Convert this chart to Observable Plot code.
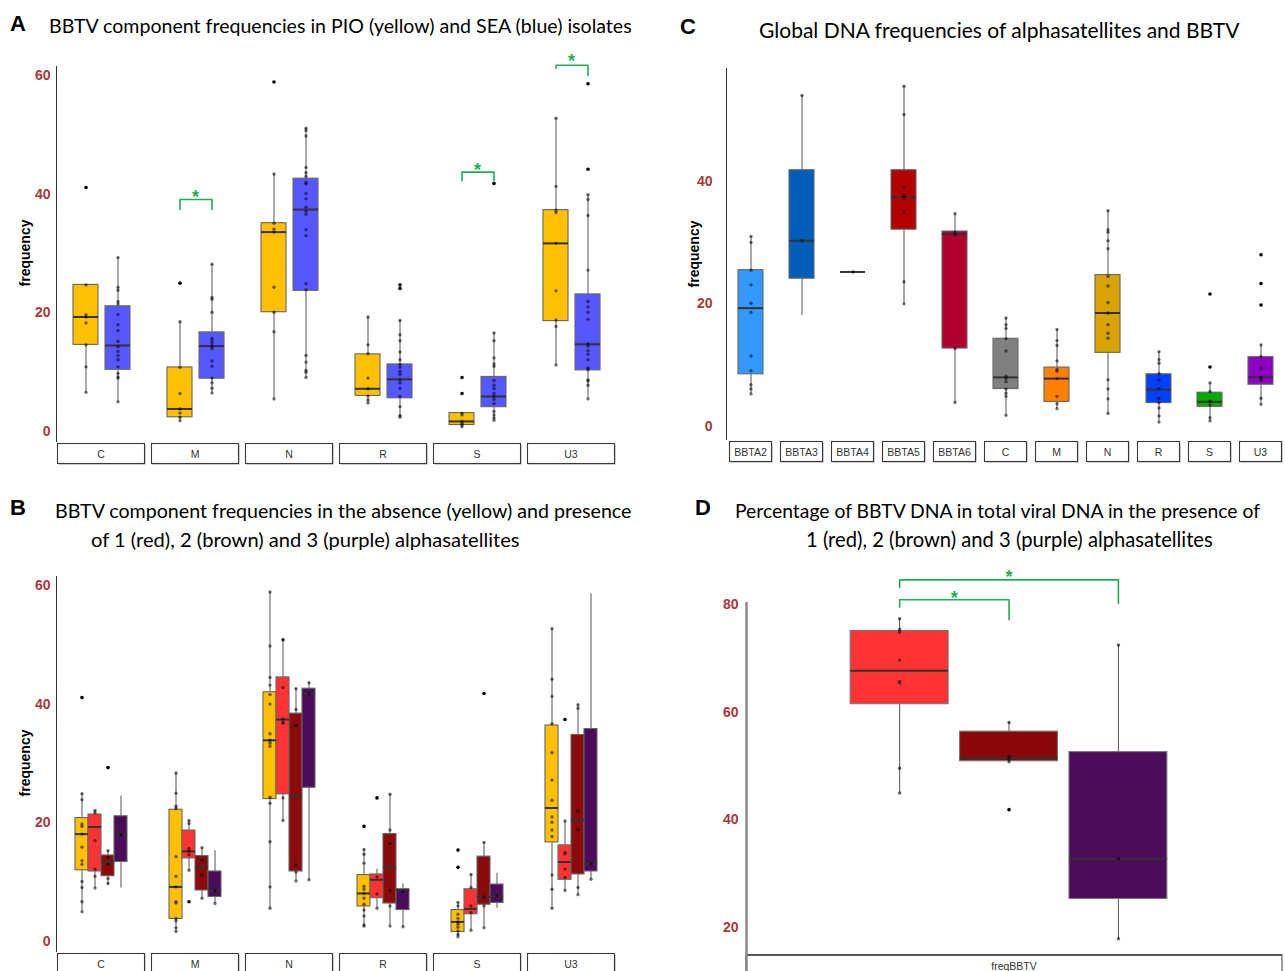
<!DOCTYPE html>
<html><head><meta charset="utf-8">
<script src="https://cdn.jsdelivr.net/npm/d3@7"></script>
<script src="https://cdn.jsdelivr.net/npm/@observablehq/plot@0.6"></script>
<style>
html,body{margin:0;padding:0;background:#fff;}
#root{position:relative;width:1285px;height:971px;overflow:hidden;background:#fff;}
.pw{position:absolute;}
.t{position:absolute;white-space:nowrap;line-height:1;color:#000;}
</style></head><body><div id="root"></div>
<script>
// ---------------- Panel A data ----------------
const A_cats = ["C","M","N","R","S","U3"];
const A_groups = ["PIO","SEA"];
const A_colors = ["#FFC000","#5757FF"];
const A_ticks = [0,20,40,60];
const A_lo  = [6.6, 5.0, 1.8, 6.5, 5.5, 9.1, 4.8, 2.4, 0.8, 1.9, 11.2, 5.5];
const A_q1  = [14.6, 10.4, 2.4, 8.9, 20.1, 23.7, 6.0, 5.6, 1.1, 4.1, 18.6, 10.3];
const A_med = [19.3, 14.5, 3.8, 14.4, 33.6, 37.4, 7.2, 8.8, 1.7, 5.9, 31.7, 14.7];
const A_q3  = [24.7, 21.1, 10.8, 16.7, 35.1, 42.6, 13.0, 11.3, 3.1, 9.2, 37.3, 23.1];
const A_hi  = [24.7, 29.3, 18.5, 28.2, 43.4, 51.1, 19.3, 18.7, 3.1, 16.6, 52.8, 39.9];
const A_points = [
  [24.7, 19.7, 19.3, 18.3, 14.6, 10.9, 6.6],
  [29.3, 24.3, 23.8, 21.9, 21.5, 19.7, 18.0, 17.0, 15.2, 14.3, 13.5, 12.8, 12.1, 10.9, 9.8, 9.2, 9.0, 5.0],
  [18.5, 10.8, 6.4, 3.8, 3.1, 2.4, 1.8],
  [28.2, 22.6, 22.3, 20.1, 15.7, 15.3, 14.9, 14.4, 14.0, 11.9, 11.0, 9.0, 8.2, 7.3, 6.5],
  [43.4, 35.1, 34.1, 33.6, 24.3, 20.1, 16.8, 5.5],
  [51.1, 50.7, 49.8, 44.5, 43.6, 43.0, 42.0, 41.7, 40.1, 39.2, 37.8, 37.1, 36.6, 34.0, 33.0, 24.9, 23.9, 12.8, 11.7, 10.3, 10.0, 9.1],
  [19.3, 14.6, 13.1, 9.0, 7.2, 6.0, 5.3, 4.8],
  [18.7, 16.3, 15.3, 13.4, 12.1, 11.3, 10.8, 10.1, 9.6, 8.7, 8.2, 7.3, 5.9, 4.2, 2.7, 2.4],
  [3.1, 2.8, 1.7, 1.4, 1.1, 0.8],
  [16.6, 15.3, 12.4, 11.4, 11.0, 8.6, 7.8, 7.2, 6.4, 5.9, 5.4, 4.7, 3.4, 2.8, 2.3, 1.9],
  [52.8, 41.3, 37.3, 36.9, 31.7, 23.7, 18.8, 17.7, 11.2],
  [39.9, 39.1, 36.4, 27.2, 21.9, 21.0, 20.1, 18.9, 14.8, 14.4, 13.6, 13.0, 12.1, 10.7, 10.4, 8.7, 8.5, 7.8, 5.5]
];
const A_outliers = [[41.1], [], [25.0], [], [58.9], [], [], [24.7, 24.1], [9.1, 6.4], [41.8], [], [58.6, 44.2]];
const A_sigCat = ["M","S","U3"];
const A_sigTop = [39.1, 43.7, 61.7];
const A_sigLeft = [37.4, 42.2, 61.2];
const A_sigRight = [37.4, 42.2, 60.0];
const A_sigStar = [40.3, 44.8, 63.1];

// ---------------- Panel B data ----------------
const B_cats = ["C","M","N","R","S","U3"];
const B_groups = ["0","1","2","3"];
const B_colors = ["#FFC000","#FF3333","#8B0A0A","#4B0C59"];
const B_ticks = [0,20,40,60];
const B_lo  = [5.0, 9.0, 9.4, 9.0,  1.7, 12.0, 7.3, 6.4,  5.6, 20.4, 10.2, 10.4,  2.6, 5.6, 2.6, 2.5,  0.8, 1.9, 2.3, 5.6,  5.6, 8.6, 7.9, 10.5];
const B_q1  = [12.0, 11.8, 11.0, 13.4,  3.8, 14.0, 8.6, 7.5,  24.0, 24.8, 11.8, 25.9,  5.9, 7.3, 6.4, 5.3,  1.6, 4.6, 6.2, 6.5,  16.7, 10.4, 11.3, 11.8];
const B_med = [18.1, 19.3, 13.4, 18.0,  9.2, 15.2, 12.5, 8.6,  33.9, 37.4, 24.5, 41.7,  8.1, 10.4, 12.5, 8.7,  3.3, 5.5, 7.5, 7.7,  22.5, 13.4, 20.4, 13.1];
const B_q3  = [20.8, 21.4, 14.5, 21.1,  22.2, 18.7, 14.4, 11.8,  42.0, 44.5, 38.4, 42.6,  11.2, 11.3, 18.1, 8.8,  5.3, 8.8, 14.3, 9.6,  36.4, 16.2, 34.8, 35.8];
const B_hi  = [24.9, 22.1, 15.3, 24.5,  28.4, 20.4, 15.8, 15.3,  58.9, 50.9, 42.6, 43.6,  15.5, 12.2, 24.8, 9.7,  6.6, 11.3, 16.7, 11.5,  52.7, 20.3, 39.9, 58.6];
const B_points = [
  [24.9, 23.9, 19.8, 19.4, 18.1, 15.9, 13.6, 13.0, 10.1, 9.1, 6.7, 5.0],
  [22.1, 21.7, 17.0, 12.2, 11.0, 9.0],
  [15.3, 14.2, 13.0, 10.6, 9.8],
  [18.0],
  [28.4, 25.0, 22.8, 22.4, 14.3, 11.0, 9.2, 6.7, 6.5, 3.9, 3.5, 2.3, 1.7],
  [20.4, 19.9, 15.7, 15.2, 14.6, 12.0],
  [15.8, 13.7, 11.2, 7.3],
  [8.6, 6.4],
  [58.9, 49.8, 44.5, 43.2, 41.6, 40.0, 35.0, 33.9, 33.4, 32.9, 24.3, 23.3, 16.8, 9.2, 5.6],
  [50.9, 50.8, 42.8, 37.5, 36.9, 36.8, 24.2, 20.4],
  [42.6, 39.1, 36.4, 12.9, 11.7, 10.2],
  [43.6, 41.7, 10.4],
  [15.5, 14.7, 13.2, 9.3, 8.8, 8.1, 7.3, 6.3, 5.3, 4.3, 2.8, 2.6],
  [10.9, 8.0, 5.6],
  [24.8, 18.8, 16.5, 8.6, 6.0, 2.6],
  [8.4, 2.5],
  [6.6, 6.0, 4.6, 3.9, 3.3, 2.9, 2.4, 1.8, 1.2, 0.8],
  [11.3, 9.1, 6.0, 4.9, 1.9],
  [16.7, 7.5, 6.0, 2.3],
  [7.7],
  [52.7, 44.2, 41.3, 36.7, 31.8, 27.2, 23.8, 21.0, 20.1, 18.8, 17.7, 11.2, 8.8, 5.6],
  [20.3, 15.0, 14.8, 12.2, 10.8, 8.6],
  [39.9, 39.3, 22.0, 18.9, 9.1, 7.9],
  [13.1, 10.5]
];
const B_outliers = [[41.1], [], [29.3], [],  [], [6.7], [], [],  [], [], [], [],  [19.4], [24.2], [], [],  [15.4, 12.5], [], [41.8], [],  [], [37.4], [], []];

// ---------------- Panel C data ----------------
const C_cats = ["BBTA2","BBTA3","BBTA4","BBTA5","BBTA6","C","M","N","R","S","U3"];
const C_colors = ["#3399FF","#005EB8","#333333","#B30000","#B0002E","#808080","#FF8000","#D9A300","#0040FF","#00AA00","#8E00C4"];
const C_ticks = [0,20,40];
const C_lo  = [5.3, 18.1, 25.2, 20.0, 3.9, 1.8, 2.9, 2.1, 0.7, 0.9, 3.6];
const C_q1  = [8.5, 24.1, 25.2, 32.1, 12.7, 6.1, 4.0, 12.0, 3.8, 3.2, 6.8];
const C_med = [19.3, 30.3, 25.2, 37.4, 31.4, 8.0, 7.8, 18.5, 6.0, 4.0, 8.0];
const C_q3  = [25.5, 41.8, 25.2, 41.8, 31.8, 14.3, 9.6, 24.7, 8.5, 5.5, 11.3];
const C_hi  = [31.0, 54.0, 25.2, 55.5, 34.7, 17.7, 15.8, 35.2, 12.2, 7.1, 13.3];
const C_points = [
  [31.0, 30.0, 25.5, 23.1, 20.1, 18.6, 11.5, 9.1, 6.8, 6.1, 5.3],
  [54.0, 30.3],
  [25.2],
  [55.5, 50.9, 39.0, 37.7, 37.3, 35.0, 23.6, 20.0],
  [34.7, 31.7, 31.3, 12.7, 3.9],
  [17.7, 16.6, 16.0, 14.3, 12.3, 8.2, 7.8, 7.3, 6.1, 5.4, 4.9, 1.8],
  [15.8, 14.0, 13.2, 10.7, 9.3, 9.0, 7.8, 4.9, 3.7, 2.9],
  [35.2, 32.1, 31.7, 30.3, 29.0, 24.5, 22.9, 20.2, 18.5, 16.6, 15.2, 14.4, 7.6, 6.1, 4.5, 2.1],
  [12.2, 10.9, 10.3, 8.6, 7.6, 6.2, 4.6, 3.9, 3.0, 1.7, 0.7],
  [7.1, 5.7, 4.1, 3.5, 1.4, 0.9],
  [13.3, 11.4, 9.5, 8.0, 7.6, 4.6, 3.6]
];
const C_outliers = [[], [], [], [], [], [], [], [], [], [21.6, 9.7], [28.0, 23.3, 19.8]];

// ---------------- Panel D data ----------------
const D_groups = ["1","2","3"];
const D_pos = [1, 2, 3];
const D_colors = ["#FF3333","#8B0808","#4B0C59"];
const D_ticks = [20,40,60,80];
const D_lo  = [45.0, 50.8, 17.9];
const D_q1  = [61.5, 50.9, 25.3];
const D_med = [67.7, 51.5, 32.8];
const D_q3  = [75.1, 56.4, 52.6];
const D_hi  = [77.4, 58.1, 72.5];
const D_points = [
  [77.4, 75.4, 74.9, 69.7, 65.7, 65.5, 49.6, 45.0],
  [58.1, 51.8, 51.3, 50.8],
  [72.5, 32.8, 17.9]
];
const D_outliers = [[], [41.9], []];
const D_strip = "freqBBTV";
const D_sigFrom = [1, 1];
const D_sigTo = [2, 3];
const D_sigTop = [80.9, 84.6];
const D_sigLeft = [79.5, 83.2];
const D_sigRight = [77.2, 80.2];
const D_sigStar = [82.0, 86.0];

// ---------------- helpers ----------------
const TICK = "#A8383B";
const GREEN = "#1FAF55";
const FONT = "Liberation Sans, Arial, sans-serif";
const root = document.getElementById("root");

function boxRows(cats, groups, lo, q1, med, q3, hi) {
  const rows = [];
  cats.forEach((c, ci) => groups.forEach((g, gi) => {
    const i = ci * groups.length + gi;
    rows.push({cat: c, group: g, lo: lo[i], q1: q1[i], med: med[i], q3: q3[i], hi: hi[i]});
  }));
  return rows;
}
function ptRows(cats, groups, lists) {
  const rows = [];
  cats.forEach((c, ci) => groups.forEach((g, gi) => {
    for (const v of lists[ci * groups.length + gi]) rows.push({cat: c, group: g, v});
  }));
  return rows;
}
function place(svg, left, top, width) {
  const w = document.createElement("div");
  w.className = "pw";
  w.style.left = left + "px"; w.style.top = top + "px"; w.style.width = width + "px";
  w.appendChild(svg);
  root.appendChild(w);
}
function styleTicks(svg) {
  d3.select(svg).selectAll('g[aria-label="y-axis tick label"] text, g[aria-label="y-axis tick label"]')
    .attr("fill", TICK).attr("font-weight", "bold").attr("font-size", 14).attr("font-family", FONT);
}
function axisLine(svg, x, y1, y2, stroke, w) {
  d3.select(svg).append("line").attr("x1", x).attr("x2", x).attr("y1", y1).attr("y2", y2)
    .attr("stroke", stroke).attr("stroke-width", w);
}
function yLabel(svg, x, y, txt) {
  d3.select(svg).append("text").attr("transform", `translate(${x},${y}) rotate(-90)`)
    .attr("text-anchor", "middle").attr("dy", "0.35em").attr("font-family", FONT)
    .attr("font-size", 14).attr("font-weight", "bold").attr("fill", "#000").text(txt);
}
function strips(svg, scale, cats, y, h) {
  const g = d3.select(svg).append("g");
  for (const c of cats) {
    const x = scale.apply(c), bw = scale.bandwidth;
    g.append("rect").attr("x", x + 1.5).attr("y", y + 1.5).attr("width", bw - 1).attr("height", h)
      .attr("fill", "#aaa");
    g.append("rect").attr("x", x + 0.5).attr("y", y + 0.5).attr("width", bw - 1).attr("height", h)
      .attr("fill", "#fff").attr("stroke", "#3a3a3a").attr("stroke-width", 1.1);
    g.append("text").attr("x", x + bw / 2).attr("y", y + h / 2 + 1).attr("dy", "0.35em")
      .attr("text-anchor", "middle").attr("font-family", FONT).attr("font-size", 10.5)
      .attr("font-weight", "normal").attr("fill", "#333").text(c);
  }
}
function addText(txt, left, cy, size, weight, font, width) {
  const el = document.createElement("div");
  el.className = "t";
  el.textContent = txt;
  el.style.left = left + "px";
  el.style.fontFamily = font;
  el.style.fontWeight = weight;
  el.style.fontSize = size + "px";
  root.appendChild(el);
  if (width) {
    const w = el.getBoundingClientRect().width;
    el.style.fontSize = (size * width / w) + "px";
  }
  const h = el.getBoundingClientRect().height;
  el.style.top = (cy - h / 2) + "px";
}
const baseStyle = {fontFamily: FONT, fontSize: "14px", fontWeight: "bold", color: TICK, background: "white", overflow: "visible"};

function groupedMarks(boxes, pts, outs) {
  return [
    Plot.ruleX(boxes, {fx: "cat", x: "group", y1: "lo", y2: "hi", stroke: "#555", strokeWidth: 1}),
    Plot.barY(boxes, {fx: "cat", x: "group", y1: "q1", y2: "q3", fill: "group", stroke: "#666", strokeWidth: 1.1}),
    Plot.tickY(boxes, {fx: "cat", x: "group", y: "med", stroke: "#333", strokeWidth: 2}),
    Plot.dot(pts, {fx: "cat", x: "group", y: "v", r: 1.7, fill: "#000", fillOpacity: 0.55}),
    Plot.dot(outs, {fx: "cat", x: "group", y: "v", r: 1.8, fill: "#000"})
  ];
}

// ---------------- Panel A ----------------
const boxesA = boxRows(A_cats, A_groups, A_lo, A_q1, A_med, A_q3, A_hi);
const ptsA = ptRows(A_cats, A_groups, A_points);
const outA = ptRows(A_cats, A_groups, A_outliers);
const brA = [];
A_sigCat.forEach((c, i) => {
  brA.push({id: i, cat: c, group: A_groups[0], y: A_sigLeft[i]},
           {id: i, cat: c, group: A_groups[0], y: A_sigTop[i]},
           {id: i, cat: c, group: A_groups[1], y: A_sigTop[i]},
           {id: i, cat: c, group: A_groups[1], y: A_sigRight[i]});
});
const starA = A_sigCat.map((c, i) => ({cat: c, y: A_sigStar[i]}));

const plotA = Plot.plot({
  width: 640, height: 430, marginLeft: 56, marginRight: 25, marginTop: 16, marginBottom: 38,
  style: baseStyle,
  fx: {domain: A_cats, paddingInner: 0.064, paddingOuter: 0, axis: null, label: null},
  x: {domain: A_groups, paddingInner: 0.22, paddingOuter: 0.48, axis: null, label: null},
  y: {domain: [-1.85, 61.5], axis: null},
  color: {domain: A_groups, range: A_colors},
  marks: [
    Plot.axisY({ticks: A_ticks, tickSize: 0, tickPadding: 7, label: null, fontSize: 14, fontWeight: "bold", fill: TICK}),
    ...groupedMarks(boxesA, ptsA, outA),
    Plot.line(brA, {fx: "cat", x: "group", y: "y", z: "id", stroke: GREEN, strokeWidth: 1.6}),
    Plot.text(starA, {fx: "cat", y: "y", text: () => "*", frameAnchor: "middle", fill: GREEN, fontSize: 18, fontWeight: "bold", dy: 4.5})
  ]
});
styleTicks(plotA);
{
  const ys = plotA.scale("y");
  axisLine(plotA, 56.5, ys.apply(61.5), ys.apply(-1.85), "#333", 1);
  strips(plotA, plotA.scale("fx"), A_cats, ys.apply(-1.85) + 1, 20);
  yLabel(plotA, 25, 203, "frequency");
}
place(plotA, 0, 50, 640);

// ---------------- Panel B ----------------
const boxesB = boxRows(B_cats, B_groups, B_lo, B_q1, B_med, B_q3, B_hi);
const ptsB = ptRows(B_cats, B_groups, B_points);
const outB = ptRows(B_cats, B_groups, B_outliers);
const plotB = Plot.plot({
  width: 640, height: 411, marginLeft: 56, marginRight: 25, marginTop: 16, marginBottom: 19,
  style: baseStyle,
  fx: {domain: B_cats, paddingInner: 0.064, paddingOuter: 0, axis: null, label: null},
  x: {domain: B_groups, paddingInner: 0, paddingOuter: 1.2, axis: null, label: null},
  y: {domain: [-1.85, 61.5], axis: null},
  color: {domain: B_groups, range: B_colors},
  marks: [
    Plot.axisY({ticks: B_ticks, tickSize: 0, tickPadding: 7, label: null, fontSize: 14, fontWeight: "bold", fill: TICK}),
    ...groupedMarks(boxesB, ptsB, outB)
  ]
});
styleTicks(plotB);
{
  const ys = plotB.scale("y");
  axisLine(plotB, 56.5, ys.apply(61.5), ys.apply(-1.85), "#333", 1);
  strips(plotB, plotB.scale("fx"), B_cats, ys.apply(-1.85) + 1, 20);
  yLabel(plotB, 25, 203, "frequency");
}
place(plotB, 0, 560, 640);

// ---------------- Panel C ----------------
const boxesC = boxRows(C_cats, ["all"], C_lo, C_q1, C_med, C_q3, C_hi);
const ptsC = ptRows(C_cats, ["all"], C_points);
const outC = ptRows(C_cats, ["all"], C_outliers);
const plotC = Plot.plot({
  width: 645, height: 420, marginLeft: 86, marginRight: 0, marginTop: 18, marginBottom: 30,
  style: baseStyle,
  x: {domain: C_cats, paddingInner: 0.165, paddingOuter: 0, axis: null, label: null},
  y: {domain: [-2.3, 58.4], axis: null},
  color: {domain: C_cats, range: C_colors},
  marks: [
    Plot.axisY({ticks: C_ticks, tickSize: 0, tickPadding: 14, label: null, fontSize: 14, fontWeight: "bold", fill: TICK}),
    Plot.ruleX(boxesC, {x: "cat", y1: "lo", y2: "hi", stroke: "#555", strokeWidth: 1}),
    Plot.barY(boxesC, {x: "cat", y1: "q1", y2: "q3", fill: "cat", stroke: "#666", strokeWidth: 1.1, insetLeft: 9, insetRight: 9}),
    Plot.tickY(boxesC, {x: "cat", y: "med", stroke: "#333", strokeWidth: 2, insetLeft: 9, insetRight: 9}),
    Plot.dot(ptsC, {x: "cat", y: "v", r: 1.7, fill: "#000", fillOpacity: 0.55}),
    Plot.dot(outC, {x: "cat", y: "v", r: 1.8, fill: "#000"})
  ]
});
styleTicks(plotC);
{
  const ys = plotC.scale("y");
  axisLine(plotC, 86.5, ys.apply(58.4), ys.apply(-2.3), "#333", 1);
  strips(plotC, plotC.scale("x"), C_cats, ys.apply(-2.3) + 1, 20);
  yLabel(plotC, 54, 204, "frequency");
}
place(plotC, 640, 50, 645);

// ---------------- Panel D ----------------
const HALF = 0.4475;
const boxesD = D_groups.map((g, i) => ({group: g, pos: D_pos[i], lo: D_lo[i], q1: D_q1[i], med: D_med[i], q3: D_q3[i], hi: D_hi[i]}));
const ptsD = [], outD = [];
D_groups.forEach((g, i) => {
  for (const v of D_points[i]) ptsD.push({pos: D_pos[i], v});
  for (const v of D_outliers[i]) outD.push({pos: D_pos[i], v});
});
const brD = [];
D_sigFrom.forEach((f, i) => {
  brD.push({id: i, x: f, y: D_sigLeft[i]}, {id: i, x: f, y: D_sigTop[i]},
           {id: i, x: D_sigTo[i], y: D_sigTop[i]}, {id: i, x: D_sigTo[i], y: D_sigRight[i]});
});
const starD = D_sigFrom.map((f, i) => ({x: (f + D_sigTo[i]) / 2, y: D_sigStar[i]}));
const plotD = Plot.plot({
  width: 605, height: 411, marginLeft: 66, marginRight: 3, marginTop: 42, marginBottom: 16,
  style: baseStyle,
  x: {domain: [-0.4, 4.5], axis: null},
  y: {domain: [14.8, 80.4], axis: null},
  color: {domain: D_groups, range: D_colors},
  marks: [
    Plot.axisY({ticks: D_ticks, tickSize: 0, tickPadding: 8, label: null, fontSize: 14, fontWeight: "bold", fill: TICK}),
    Plot.ruleX(boxesD, {x: "pos", y1: "lo", y2: "hi", stroke: "#555", strokeWidth: 1}),
    Plot.rect(boxesD, {x1: d => d.pos - HALF, x2: d => d.pos + HALF, y1: "q1", y2: "q3", fill: "group", stroke: "#777", strokeWidth: 1.1}),
    Plot.ruleY(boxesD, {x1: d => d.pos - HALF, x2: d => d.pos + HALF, y: "med", stroke: "#333", strokeWidth: 2}),
    Plot.dot(ptsD, {x: "pos", y: "v", r: 1.7, fill: "#000", fillOpacity: 0.6}),
    Plot.dot(outD, {x: "pos", y: "v", r: 1.8, fill: "#000"}),
    Plot.line(brD, {x: "x", y: "y", z: "id", stroke: GREEN, strokeWidth: 1.6}),
    Plot.text(starD, {x: "x", y: "y", text: () => "*", fill: GREEN, fontSize: 18, fontWeight: "bold", dy: 4.5})
  ]
});
styleTicks(plotD);
{
  const ys = plotD.scale("y");
  const yb = ys.apply(14.8);
  const sv = d3.select(plotD);
  sv.append("rect").attr("x", 66).attr("y", yb).attr("width", 605 - 66 - 3).attr("height", 30)
    .attr("fill", "#fff").attr("stroke", "#444").attr("stroke-width", 1);
  sv.append("line").attr("x1", 66).attr("x2", 602).attr("y1", yb).attr("y2", yb).attr("stroke", "#555").attr("stroke-width", 2);
  sv.append("text").attr("x", (66 + 602) / 2).attr("y", yb + 11).attr("dy", "0.35em")
    .attr("text-anchor", "middle").attr("font-family", FONT).attr("font-size", 10.5)
    .attr("font-weight", "normal").attr("fill", "#333").text(D_strip);
  axisLine(plotD, 66.5, ys.apply(80.4), 411, "#888", 2.5);
}
place(plotD, 680, 560, 605);

// ---------------- Titles ----------------
const TF = "Lato, 'Open Sans', sans-serif";
addText("A", 10, 24, 22, "bold", FONT);
addText("BBTV component frequencies in PIO (yellow) and SEA (blue) isolates", 49, 26, 18, "normal", TF, 583);
addText("B", 10, 508, 22, "bold", FONT);
addText("BBTV component frequencies in the absence (yellow) and presence", 55, 511, 18, "normal", TF, 577);
addText("of 1 (red), 2 (brown) and 3 (purple) alphasatellites", 91, 539, 18, "normal", TF, 429);
addText("C", 680, 27, 22, "bold", FONT);
addText("Global DNA frequencies of alphasatellites and BBTV", 759, 30, 18, "normal", TF, 481);
addText("D", 695, 508, 22, "bold", FONT);
addText("Percentage of BBTV DNA in total viral DNA in the presence of", 735, 511, 18, "normal", TF, 525);
addText("1 (red), 2 (brown) and 3 (purple) alphasatellites", 806, 539, 18, "normal", TF, 407);
</script></body></html>
